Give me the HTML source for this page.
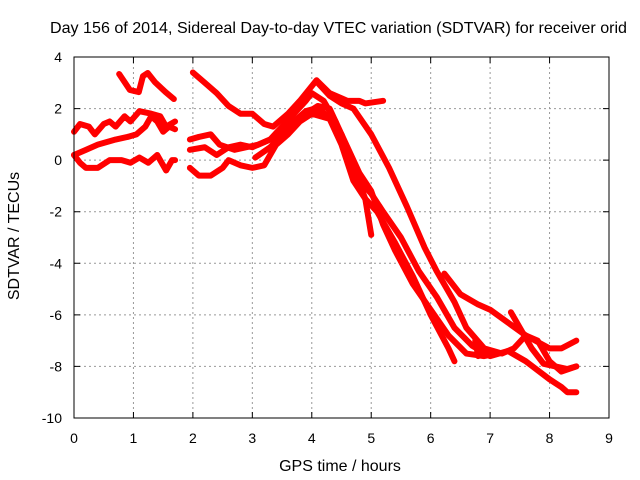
<!DOCTYPE html>
<html><head><meta charset="utf-8"><style>
body{margin:0;background:#fff}
svg{display:block;font-family:"Liberation Sans",sans-serif}
</style></head><body>
<svg id="c" width="640" height="480">
<text x="50" y="33" font-size="16" textLength="577" lengthAdjust="spacingAndGlyphs">Day 156 of 2014, Sidereal Day-to-day VTEC variation (SDTVAR) for receiver orid</text>
<text transform="translate(19,236) rotate(-90)" font-size="16" text-anchor="middle">SDTVAR / TECUs</text>
<text x="340" y="471" font-size="16" text-anchor="middle">GPS time / hours</text>
<g id="grid"></g><g id="ticks"></g><g id="series"></g>
<rect x="74" y="57" width="535" height="361" fill="none" stroke="#000"/>
</svg>
<script>
const xTicks=[0,1,2,3,4,5,6,7,8,9];
const yTicks=[4,2,0,-2,-4,-6,-8,-10];
const trackA=[[0.76,3.34],[0.94,2.72],[1.09,2.64],[1.16,3.26],[1.24,3.38],[1.36,3.03],[1.54,2.64],[1.68,2.37]];
const trackB=[[0,1.1],[0.1,1.4],[0.25,1.3],[0.35,1.0],[0.5,1.4],[0.6,1.5],[0.7,1.3],[0.85,1.7],[0.95,1.5],[1.1,1.9],[1.3,1.8],[1.45,1.7],[1.55,1.3],[1.7,1.5]];
const trackC=[[0,0.2],[0.2,0.4],[0.4,0.6],[0.7,0.8],[0.9,0.9],[1.05,1.0],[1.2,1.3],[1.3,1.7],[1.4,1.5],[1.5,1.1],[1.6,1.3],[1.7,1.2]];
const trackD=[[0,0.2],[0.1,-0.1],[0.2,-0.3],[0.4,-0.3],[0.6,0.0],[0.8,0.0],[0.95,-0.1],[1.1,0.1],[1.25,-0.1],[1.4,0.2],[1.55,-0.4],[1.65,0.0],[1.7,0.0]];
const trackE1=[[2.0,3.4],[2.2,3.0],[2.4,2.6],[2.6,2.1],[2.8,1.8],[3.0,1.8],[3.2,1.4],[3.35,1.3],[3.6,1.8],[3.8,2.3],[4.08,3.1],[4.3,2.6],[4.5,2.4],[4.6,2.3],[4.8,2.3],[4.9,2.2],[5.2,2.3]];
const trackE2=[[4.1,3.0],[4.3,2.5],[4.5,2.2],[4.7,2.0],[5.0,1.0],[5.3,-0.3],[5.6,-1.8],[5.9,-3.4],[6.1,-4.3],[6.4,-5.5],[6.6,-6.5],[6.9,-7.3],[7.2,-7.5],[7.4,-7.3],[7.6,-6.8],[7.8,-7.0],[8.0,-7.8],[8.2,-8.2],[8.45,-8.0]];
const trackE3=[[1.95,0.8],[2.1,0.9],[2.3,1.0],[2.45,0.6],[2.7,0.4],[2.9,0.5],[3.1,0.6],[3.3,0.8],[3.5,1.3],[3.7,1.8],[3.9,2.3],[4.0,2.6],[4.2,2.3],[4.4,1.5],[4.6,0.3],[4.8,-0.8],[5.0,-1.3],[5.2,-2.0],[5.5,-3.0],[5.8,-4.3],[6.1,-5.3],[6.4,-6.5],[6.7,-7.2],[7.0,-7.6],[7.3,-7.4],[7.6,-7.8],[8.0,-8.5],[8.2,-8.8],[8.3,-9.0],[8.45,-9.0]];
const trackE4=[[1.95,0.4],[2.2,0.5],[2.4,0.2],[2.6,0.5],[2.8,0.6],[3.0,0.5],[3.3,0.8],[3.5,1.0],[3.7,1.5],[3.9,1.9],[4.05,2.0],[4.3,1.7],[4.5,1.0],[4.7,-0.3],[4.9,-1.5],[5.0,-2.9]];
const trackE5=[[1.95,-0.3],[2.1,-0.6],[2.3,-0.6],[2.5,-0.3],[2.6,0.0],[2.8,-0.2],[3.0,-0.3],[3.2,-0.2],[3.4,0.6],[3.6,1.0],[3.8,1.5],[4.0,1.8],[4.3,1.6],[4.5,0.6],[4.7,-0.8],[4.9,-1.5],[5.1,-2.0],[5.4,-3.2],[5.7,-4.5],[6.0,-6.0],[6.3,-7.3],[6.4,-7.8]];
const trackE6=[[3.05,0.1],[3.3,0.5],[3.6,1.2],[3.9,1.8],[4.1,2.1],[4.3,2.0],[4.5,1.0],[4.8,-0.5],[5.0,-1.2],[5.2,-2.5],[5.4,-3.5],[5.7,-4.8],[6.0,-5.8],[6.3,-6.8],[6.6,-7.5],[6.9,-7.6],[7.1,-7.5]];
const trackE7=[[6.23,-4.4],[6.5,-5.2],[6.8,-5.6],[7.0,-5.8],[7.3,-6.3],[7.6,-6.8],[8.0,-7.3],[8.2,-7.3],[8.45,-7.0]];
const trackE8=[[7.35,-5.9],[7.5,-6.5],[7.7,-7.3],[7.9,-7.9],[8.1,-8.0],[8.3,-8.1],[8.45,-8.0]];
const trackE9=[[6.75,-7.0],[6.8,-7.6]];
const tracks=[trackA,trackB,trackC,trackD,trackE1,trackE2,trackE3,trackE4,trackE5,trackE6,trackE7,trackE8,trackE9];
const X=t=>74+t*(535/9), Y=v=>57+(4-v)*(361/14);
const NS="http://www.w3.org/2000/svg";
const g=document.getElementById('grid'), tk=document.getElementById('ticks'), s=document.getElementById('series');
function mk(tag,at,p){const e=document.createElementNS(NS,tag);for(const k in at)e.setAttribute(k,at[k]);p.appendChild(e);return e;}
xTicks.forEach(t=>{
 if(t>0&&t<9){const l=mk('line',{x1:X(t),x2:X(t),y1:57,y2:418,stroke:'#999','stroke-dasharray':'2,3'},g);
 
 
 const m=mk('path',{d:`M${X(t)},418v-6M${X(t)},57v6`,stroke:'#000'},tk);
 
 }
 const tx=mk('text',{x:X(t),y:443,'font-size':14,'text-anchor':'middle'},tk);tx.textContent=t;
 
 
});
yTicks.forEach(v=>{
 if(v>-10&&v<4){const l=mk('line',{x1:74,x2:609,y1:Y(v),y2:Y(v),stroke:'#999','stroke-dasharray':'2,3'},g);
 
 
 const m=mk('path',{d:`M74,${Y(v)}h6M609,${Y(v)}h-6`,stroke:'#000'},tk);
 
 }
 const tx=mk('text',{x:62,y:Y(v)+5,'font-size':14,'text-anchor':'end'},tk);tx.textContent=v;
 
 
});
tracks.forEach(tr=>{
 const p=mk('polyline',{points:tr.map(d=>X(d[0])+','+Y(d[1])).join(' '),fill:'none',stroke:'#f00','stroke-width':6,'stroke-linejoin':'round','stroke-linecap':'round'},s);
 
 
});
</script>
</body></html>
